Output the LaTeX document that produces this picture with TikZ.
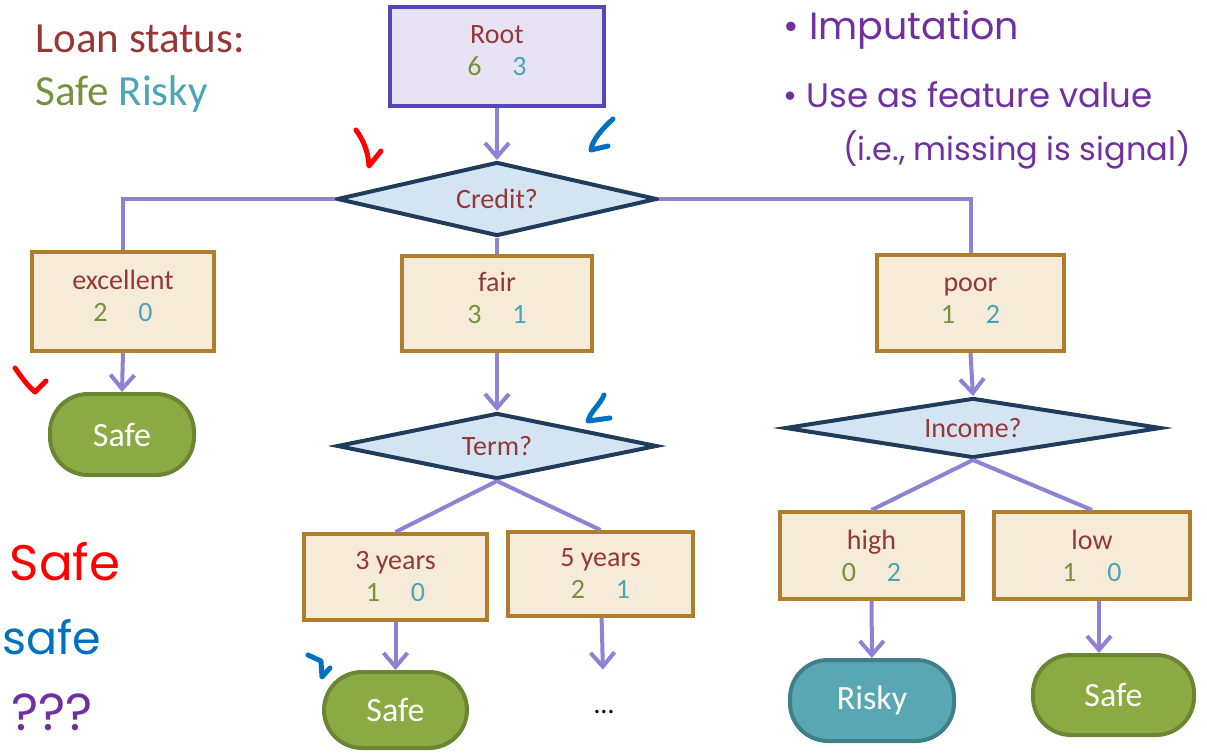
\documentclass[tikz,border=0pt]{standalone}
\usepackage{fontspec}
\setmainfont{Carlito}
\newfontfamily\handfont{Poppins}
\usetikzlibrary{shapes.geometric,arrows.meta}

\definecolor{txtred}{HTML}{953735}
\definecolor{safecol}{HTML}{76923C}
\definecolor{riskycol}{HTML}{4BA5B8}
\definecolor{rootfill}{HTML}{E7E3F5}
\definecolor{rootdraw}{HTML}{5646BE}
\definecolor{diafill}{HTML}{D5E4F2}
\definecolor{diadraw}{HTML}{1F3D5B}
\definecolor{boxfill}{HTML}{F6EBD9}
\definecolor{boxdraw}{HTML}{B07D2B}
\definecolor{linkcol}{HTML}{8D82D4}
\definecolor{safefill}{HTML}{8BAA43}
\definecolor{safedraw}{HTML}{6A8633}
\definecolor{riskyfill}{HTML}{58A7B3}
\definecolor{riskydraw}{HTML}{3F7F8C}
\definecolor{penpurple}{HTML}{7030A0}
\definecolor{penred}{HTML}{FF0000}
\definecolor{penblue}{HTML}{0070C0}

\tikzset{
  nodefont/.style={font=\fontsize{14}{16}\selectfont},
  rootbox/.style={rectangle,draw=rootdraw,fill=rootfill,line width=2pt,align=center,text=txtred,nodefont},
  split/.style={diamond,aspect=6,draw=diadraw,fill=diafill,line width=2pt,inner sep=0pt,text=txtred,nodefont},
  branch/.style={rectangle,draw=boxdraw,fill=boxfill,line width=2pt,align=center,text=txtred,nodefont},
  leaf/.style={rectangle,rounded corners=19pt,line width=2pt,text=white,font=\fontsize{17}{20}\selectfont},
  safeleaf/.style={leaf,draw=safedraw,fill=safefill},
  riskyleaf/.style={leaf,draw=riskydraw,fill=riskyfill},
  link/.style={draw=linkcol,line width=2pt},
  arr/.style={link,-{Straight Barb[length=7pt,width=12pt]}},
  pen/.style={line width=2.5pt,line cap=round,line join=round},
  handtext/.style={text=penpurple,inner sep=0pt,font=\handfont}
}
\newcommand{\counts}[2]{{\color{safecol}#1}\hspace{1.1em}{\color{riskycol}#2}}

\begin{document}
\begin{tikzpicture}[x=0.5pt,y=-0.5pt]
  \useasboundingbox (0,0) rectangle (1207,755);

  % legend
  \node[anchor=base west,inner sep=0pt,text=txtred,font=\fontsize{21.5}{26}\selectfont] (status) at (35,53) {Loan status:};
  \node[anchor=base west,inner sep=0pt,font=\fontsize{21.5}{26}\selectfont] (classes) at (35,105) {{\color{safecol}Safe} {\color{riskycol}Risky}};

  % tree
  \node[rootbox,minimum width=107pt,minimum height=49.5pt,text depth=6pt] (root) at (497,56.5) {Root\\\counts{6}{3}};
  \node[split,minimum width=160pt,minimum height=37pt] (credit) at (497,199) {Credit?};
  \node[branch,minimum width=91pt,minimum height=49.5pt,text depth=6pt] (exc) at (123,301.5) {excellent\\\counts{2}{0}};
  \node[branch,minimum width=95pt,minimum height=47.5pt,text depth=6pt] (fair) at (497,303.5) {fair\\\counts{3}{1}};
  \node[branch,minimum width=93.5pt,minimum height=48pt,text depth=2pt] (poor) at (970.5,303) {poor\\\counts{1}{2}};
  \node[safeleaf,minimum width=72pt,minimum height=40.5pt] (safeA) at (122,434.5) {Safe};
  \node[split,minimum width=160pt,minimum height=33pt] (term) at (497,446) {Term?};
  \node[split,minimum width=188pt,minimum height=30pt] (income) at (973,428) {Income?};
  \node[branch,minimum width=91.5pt,minimum height=43pt] (three) at (395.5,577) {3 years\\\counts{1}{0}};
  \node[branch,minimum width=92.5pt,minimum height=42pt] (five) at (600.5,574) {5 years\\\counts{2}{1}};
  \node[branch,minimum width=91.5pt,minimum height=43.5pt] (high) at (871.5,555.5) {high\\\counts{0}{2}};
  \node[branch,minimum width=98pt,minimum height=43.5pt] (low) at (1092,555.5) {low\\\counts{1}{0}};
  \node[safeleaf,minimum width=71.5pt,minimum height=38pt] (safeB) at (395.5,710) {Safe};
  \node[nodefont,minimum height=42pt] (dots) at (604,712) {\dots};
  \node[riskyleaf,minimum width=82pt,minimum height=40.5pt] (risky) at (872,700.5) {Risky};
  \node[safeleaf,minimum width=80.5pt,minimum height=40pt] (safeC) at (1113.5,695) {Safe};
  \coordinate (lowdrop) at (1099,601);

  % connectors
  \draw[arr] (root) -- (credit);
  \draw[link] (credit.west) -| (exc.north);
  \draw[link] (credit.east) -| (poor.north);
  \draw[link] (credit.south) -- (fair.north);
  \draw[arr] (exc.south) -- (safeA.north);
  \draw[arr] (fair) -- (term);
  \draw[arr] (poor.south) -- (income.north);
  \draw[link] (term.south) -- (three.north);
  \draw[link] (term.south) -- (five.north);
  \draw[arr] (three) -- (safeB);
  \draw[arr] (five) -- (dots);
  \draw[link] (income.south) -- (high.north);
  \draw[link] (income.south) -- (low.north);
  \draw[arr] (high) -- (risky);
  \draw[arr] (lowdrop) -- (lowdrop |- safeC.north);

  % pen notes
  \node[handtext,anchor=west,font=\handfont\fontsize{19}{22}\selectfont] (imput) at (783,30) {• Imputation};
  \node[handtext,anchor=west,font=\handfont\fontsize{17}{20}\selectfont] (usefeat) at (783,95) {• Use as feature value};
  \node[handtext,anchor=west,font=\handfont\fontsize{16}{20}\selectfont] (signal) at (843,150) {(i.e., missing is signal)};
  \node[handtext,text=penred,font=\handfont\fontsize{25}{28}\selectfont] (redsafe) at (65,562) {Safe};
  \node[handtext,text=penblue,font=\handfont\fontsize{23}{26}\selectfont] (bluesafe) at (52,637) {safe};
  \node[handtext,font=\handfont\fontsize{26}{30}\selectfont] (unknown) at (52,712) {???};

  \draw[pen,penred] (356,130) .. controls (363,140) and (368,150) .. (369,166) -- (381,151);
  \draw[pen,penblue] (613,119) .. controls (603,128) and (592,140) .. (591,150) -- (608,146);
  \draw[pen,penred] (15,368) .. controls (22,378) and (28,386) .. (35,392) -- (46,381);
  \draw[pen,penblue] (604,395) .. controls (600,405) and (590,412) .. (588,421) -- (610,418);
  \draw[pen,penblue] (308,655) -- (321,661) -- (322,677) -- (330,668);
\end{tikzpicture}
\end{document}
